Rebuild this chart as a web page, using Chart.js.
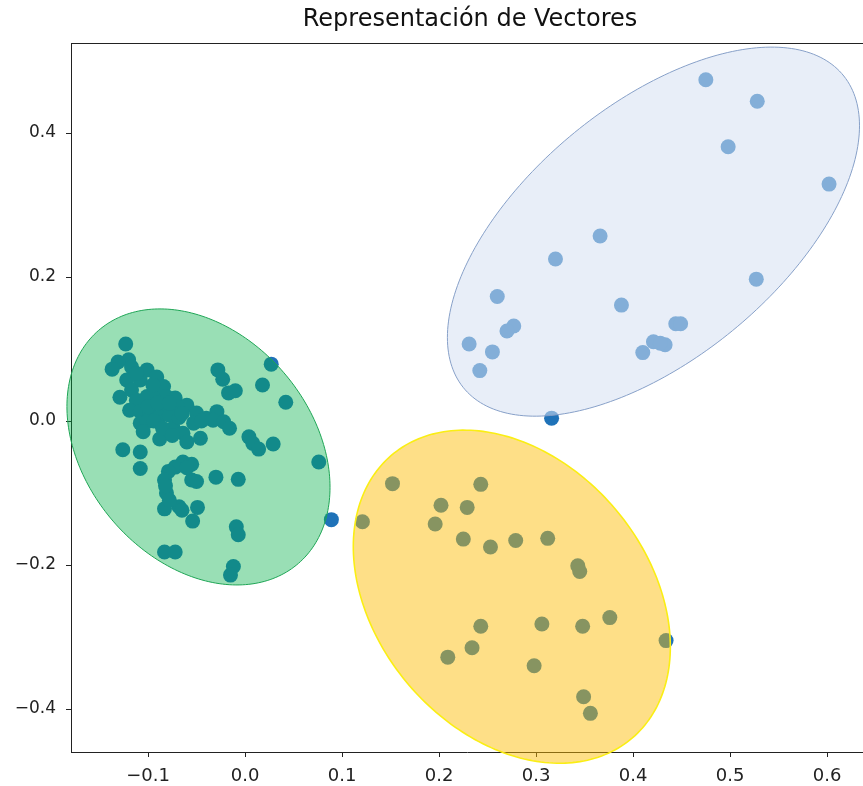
<!DOCTYPE html>
<html>
<head>
<meta charset="utf-8">
<script src="https://cdn.jsdelivr.net/npm/chart.js@4.4.1/dist/chart.umd.min.js"></script>
<style>
  html, body { margin: 0; padding: 0; background: #ffffff; overflow: hidden; }
  canvas { display: block; }
</style>
</head>
<body>
<canvas id="chart" width="863" height="786"></canvas>
<script>
// Projected vectors, one list of [x, y] pairs per group
const groupGreen = [
  [-0.123,0.107],[-0.120,0.085],[-0.131,0.082],[-0.137,0.072],[-0.117,0.075],[-0.101,0.071],
  [-0.091,0.061],[-0.108,0.057],[-0.122,0.057],[-0.112,0.066],[-0.129,0.033],[-0.117,0.043],
  [-0.112,0.029],[-0.101,0.034],[-0.091,0.039],[-0.084,0.048],[-0.081,0.034],[-0.072,0.032],
  [-0.060,0.022],[-0.070,0.020],[-0.081,0.018],[-0.119,0.015],[-0.108,0.013],[-0.098,0.011],
  [-0.088,0.006],[-0.108,-0.003],[-0.101,-0.001],[-0.105,-0.015],[-0.088,-0.025],[-0.074,-0.010],
  [-0.064,-0.017],[-0.060,-0.029],[-0.050,0.011],[-0.053,-0.003],[-0.046,-0.024],[-0.040,0.004],
  [-0.029,0.013],[-0.033,0.001],[-0.022,-0.001],[-0.016,-0.010],[-0.028,0.071],[-0.023,0.058],
  [-0.017,0.039],[-0.010,0.042],[0.027,0.079],[0.018,0.050],[0.042,0.026],[0.004,-0.022],
  [0.008,-0.031],[0.014,-0.039],[0.029,-0.032],[0.076,-0.057],[-0.126,-0.040],[-0.108,-0.043],
  [-0.108,-0.066],[-0.064,-0.057],[-0.055,-0.060],[-0.072,-0.064],[-0.079,-0.070],[-0.083,-0.082],
  [-0.081,-0.100],[-0.055,-0.082],[-0.050,-0.084],[-0.030,-0.078],[-0.007,-0.081],[-0.083,-0.122],
  [-0.068,-0.119],[-0.065,-0.124],[-0.049,-0.120],[-0.054,-0.139],[-0.009,-0.147],[-0.007,-0.158],
  [-0.083,-0.182],[-0.072,-0.182],[-0.012,-0.202],[-0.015,-0.214],
  [-0.095,0.050],[-0.100,0.020],[-0.090,0.025],[-0.078,0.008],[-0.068,0.005],[-0.094,0.000],
  [-0.085,-0.010],[-0.078,0.025],[-0.065,0.010],[-0.045,0.000],[-0.075,-0.020],[-0.082,-0.090],
  [-0.060,-0.065],[-0.078,-0.110]
];
const groupYellow = [
  [0.152,-0.087],[0.243,-0.088],[0.202,-0.117],[0.229,-0.120],[0.121,-0.140],[0.196,-0.143],
  [0.225,-0.164],[0.253,-0.175],[0.279,-0.166],[0.312,-0.163],[0.343,-0.201],[0.345,-0.209],
  [0.376,-0.273],[0.306,-0.282],[0.348,-0.285],[0.243,-0.285],[0.234,-0.315],[0.209,-0.328],
  [0.298,-0.340],[0.349,-0.383],[0.356,-0.406]
];
const groupBlue = [
  [0.475,0.474],[0.528,0.444],[0.498,0.381],[0.602,0.329],[0.366,0.257],[0.320,0.225],
  [0.527,0.197],[0.260,0.173],[0.388,0.161],[0.277,0.132],[0.270,0.125],[0.231,0.107],
  [0.255,0.096],[0.242,0.070],[0.444,0.135],[0.449,0.135],[0.421,0.110],[0.433,0.106],
  [0.428,0.108],[0.410,0.095]
];
const outsiders = [[0.316,0.004],[0.089,-0.137],[0.434,-0.305]];

// Group outlines: centre, half range in x and y, phase between x and y (degrees)
const ellipseCenters = [[-0.048,-0.036],[0.275,-0.244],[0.421,0.263]];
const ellipseHalfRanges = [[0.1356,0.1917],[0.1634,0.2313],[0.2124,0.2563]];
const ellipsePhases = [107,107.5,55];

const xTickValues = [-0.1,0.0,0.1,0.2,0.3,0.4,0.5,0.6];
const yTickValues = [-0.4,-0.2,0.0,0.2,0.4];
const chartTitle = 'Representación de Vectores';

const ellipseFills = ['rgba(0,175,70,0.40)','rgba(253,187,0,0.47)','rgba(213,224,242,0.55)'];
const ellipseEdges = ['rgba(30,165,85,1)','rgba(250,238,20,1)','rgba(135,160,200,1)'];
const ellipseEdgeWidths = [1,1.6,1];

const dotColor = '#1f72b8';
const fmt = v => (Math.abs(v) < 1e-9 ? 0 : v).toFixed(1).replace('-', '\u2212');
const toPoints = arr => arr.map(p => ({x: p[0], y: p[1]}));

// Translucent outlines laid over the dots, sampled in data space
const ellipsePlugin = {
  id: 'groupEllipses',
  beforeDatasetsDraw(chart) {
    const {ctx, chartArea} = chart;
    ctx.save();
    ctx.strokeStyle = '#222';
    ctx.lineWidth = 1;
    ctx.beginPath();
    ctx.moveTo(chartArea.left, chartArea.top + 0.5);
    ctx.lineTo(chartArea.right, chartArea.top + 0.5);
    ctx.stroke();
    ctx.restore();
  },
  afterDatasetsDraw(chart) {
    const {ctx} = chart;
    const xs = chart.scales.x, ys = chart.scales.y;
    ctx.save();
    ellipseCenters.forEach((c, i) => {
      const [hx, hy] = ellipseHalfRanges[i];
      const ph = ellipsePhases[i] * Math.PI / 180;
      ctx.beginPath();
      const n = 240;
      for (let k = 0; k <= n; k++) {
        const t = 2 * Math.PI * k / n;
        const px = xs.getPixelForValue(c[0] + hx * Math.cos(t));
        const py = ys.getPixelForValue(c[1] + hy * Math.cos(t - ph));
        if (k === 0) ctx.moveTo(px, py); else ctx.lineTo(px, py);
      }
      ctx.closePath();
      ctx.fillStyle = ellipseFills[i];
      ctx.fill();
      ctx.strokeStyle = ellipseEdges[i];
      ctx.lineWidth = ellipseEdgeWidths[i];
      ctx.stroke();
    });
    ctx.restore();
  },
  afterDraw(chart) {
    const {ctx} = chart;
    ctx.save();
    ctx.fillStyle = '#111';
    ctx.font = '24px "DejaVu Sans"';
    ctx.textAlign = 'center';
    ctx.textBaseline = 'middle';
    ctx.fillText(chartTitle, 470, 20);
    ctx.restore();
  }
};

const dsBase = {
  backgroundColor: dotColor,
  borderColor: dotColor,
  borderWidth: 0,
  pointRadius: 7.5,
  pointHoverRadius: 7.5
};

new Chart(document.getElementById('chart'), {
  type: 'scatter',
  data: {
    datasets: [
      Object.assign({label: 'grupo 1', data: toPoints(groupGreen)}, dsBase),
      Object.assign({label: 'grupo 2', data: toPoints(groupYellow)}, dsBase),
      Object.assign({label: 'grupo 3', data: toPoints(groupBlue)}, dsBase),
      Object.assign({label: 'otros', data: toPoints(outsiders)}, dsBase)
    ]
  },
  options: {
    responsive: false,
    animation: false,
    devicePixelRatio: 1,
    layout: {autoPadding: false, padding: {top: 43, left: 0, right: 0, bottom: 0}},
    plugins: {legend: {display: false}, tooltip: {enabled: false}, title: {display: false}},
    scales: {
      x: {
        type: 'linear',
        min: -0.1794,
        max: 0.637,
        afterBuildTicks: s => { s.ticks = xTickValues.map(v => ({value: v})); },
        afterFit: s => { s.height = 34; s.paddingLeft = 0; s.paddingRight = 0; },
        grid: {display: true, drawOnChartArea: false, drawTicks: true, tickLength: 5, tickColor: '#222', tickWidth: 1},
        border: {display: true, color: '#222', width: 1},
        ticks: {
          autoSkip: false, maxRotation: 0, padding: 9,
          color: '#222', font: {family: 'DejaVu Sans', size: 18},
          callback: v => fmt(v)
        }
      },
      y: {
        type: 'linear',
        min: -0.4597,
        max: 0.525,
        afterBuildTicks: s => { s.ticks = yTickValues.map(v => ({value: v})); },
        afterFit: s => { s.width = 71; s.paddingTop = 0; s.paddingBottom = 0; },
        grid: {display: true, drawOnChartArea: false, drawTicks: true, tickLength: 5, tickColor: '#222', tickWidth: 1},
        border: {display: true, color: '#222', width: 1},
        ticks: {
          autoSkip: false, padding: 10,
          color: '#222', font: {family: 'DejaVu Sans', size: 17},
          callback: v => fmt(v)
        }
      }
    }
  },
  plugins: [ellipsePlugin]
});
</script>
</body>
</html>
